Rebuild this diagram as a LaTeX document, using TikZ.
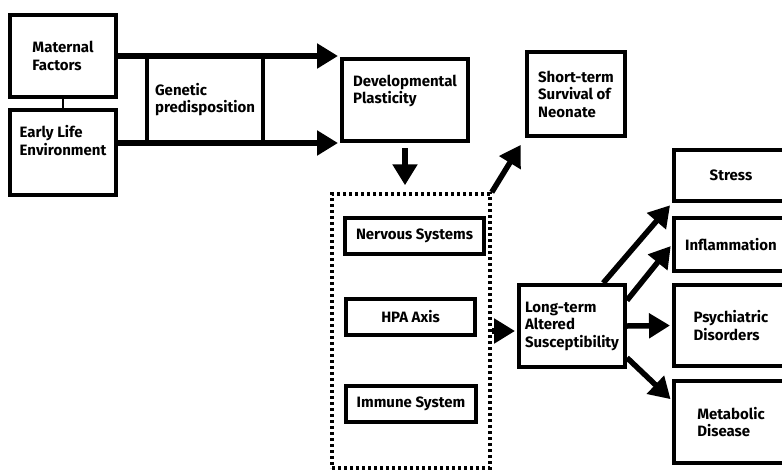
\documentclass[tikz,border=0pt]{standalone}
\usepackage{fontspec}
\setmainfont{Fira Sans}
\usetikzlibrary{arrows.meta,positioning}
\begin{document}
\begin{tikzpicture}[x=1pt,y=-1pt]
\tikzstyle{every node}=[font=\bfseries\fontsize{15}{17.5}\selectfont]
\tikzstyle{box}=[draw, line width=4pt, align=left, inner sep=0pt]
\tikzstyle{arr}=[-{Triangle[length=21pt,width=24pt]}, line width=5.5pt]
\useasboundingbox (0,0) rectangle (782,472);
\clip (0,0) rectangle (782,472);
% left column
\node [box, minimum width=106, minimum height=82] (MF) at (63,56) {Maternal\\Factors};
\node [box, minimum width=106, minimum height=85] (ELE) at (63,152) {Early Life\\Environment\\[6pt]};
\node [box, minimum width=116, minimum height=87] (GP) at (205,99.5) {Genetic\\predisposition};
\node [box, minimum width=126, minimum height=82] (DP) at (405,100) {Developmental\\Plasticity\\[4pt]};
\node [box, minimum width=98, minimum height=84] (ST) at (576,94) {Short-term\\Survival of\\Neonate};
% systems
\node [draw, line width=3.5pt, dash pattern=on 3pt off 3pt, minimum width=158, minimum height=274] (DB) at (411,331) {};
\node [box, minimum width=139, minimum height=36] (NS) at (414.5,236) {Nervous Systems};
\node [box, minimum width=129, minimum height=36] (HPA) at (410.5,317) {HPA Axis};
\node [box, minimum width=130, minimum height=36] (IS) at (411,404) {Immune System};
% outcomes
\node [box, minimum width=106, minimum height=82] (LT) at (572,326) {Long-term\\Altered\\Susceptibility};
\node [box, minimum width=114, minimum height=51] (STR) at (731,175.5) {Stress};
\node [box, minimum width=114, minimum height=53] (INF) at (731,244.5) {Inflammation};
\node [box, minimum width=114, minimum height=81] (PSY) at (731,325.5) {Psychiatric\\Disorders};
\node [box, minimum width=114, minimum height=82] (MET) at (731,422) {Metabolic\\Disease};
\path (MF.south) edge [line width=2.5pt] (ELE.north);
\path (MF.east) edge [arr, shorten >=2pt] (MF.east -| DP.west);
\path (ELE.east |- DP.south west) edge [arr, shorten >=2pt] (DP.south west);
\path (DP.south) edge [arr, shorten <=5pt, shorten >=7pt] (DP.south |- DB.north);
\path (DB.north east) edge [arr, shorten >=8pt] (ST.south west);
\path (DB.east) edge [arr, shorten >=2pt] (DB.east -| LT.west);
\path (LT.54) edge [arr, shorten >=3pt] (STR.south west);
\path (LT.25) edge [arr, shorten >=2pt] (INF.west);
\path (LT.east) edge [arr, shorten >=2pt] (PSY.west);
\path (LT.-30) edge [arr, shorten >=2pt] (MET.160);
\end{tikzpicture}
\end{document}
